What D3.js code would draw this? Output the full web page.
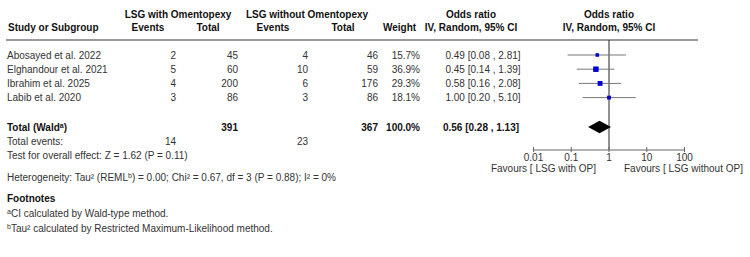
<!DOCTYPE html>
<html>
<head>
<meta charset="utf-8">
<script src="https://cdn.jsdelivr.net/npm/d3@7"></script>
<style>
  body { margin: 0; background: #fff; }
  svg { display: block; font-family: "Liberation Sans", Arial, sans-serif; font-size: 10px; }
  .b { font-weight: bold; fill: #111; }
  .r { fill: #333; }
</style>
</head>
<body>
<svg id="chart" width="750" height="257"></svg>
<script>
// ---- Data ----
const studies = ["Abosayed et al. 2022", "Elghandour et al. 2021", "Ibrahim et al.  2025", "Labib et al. 2020"];
const eventsOP = [2, 5, 4, 3];
const totalOP = [45, 60, 200, 86];
const eventsNoOP = [4, 10, 6, 3];
const totalNoOP = [46, 59, 176, 86];
const weights = [15.7, 36.9, 29.3, 18.1];
const orValues = [0.49, 0.45, 0.58, 1.00];
const ciLow = [0.08, 0.14, 0.16, 0.20];
const ciHigh = [2.81, 1.39, 2.08, 5.10];
const pooled = { or: 0.56, low: 0.28, high: 1.13, totalOP: 391, totalNoOP: 367, eventsOP: 14, eventsNoOP: 23, weight: "100.0%" };
const axisTicks = [0.01, 0.1, 1, 10, 100];
const tickLabels = ["0.01", "0.1", "1", "10", "100"];

const svg = d3.select("#chart");
const x = d3.scaleLog().domain([0.01, 100]).range([533.5, 684.5]);
const rowY = d3.scaleLinear().domain([0, 1]).range([55, 69.2]);
const fmt2 = d3.format(".2f");

function txt(xp, yc, s, cls, anchor) {
  return svg.append("text").attr("x", xp).attr("y", yc + 3.5)
    .attr("class", cls).attr("text-anchor", anchor || "start").text(s);
}

// Headers
txt(178, 14, "LSG with Omentopexy", "b", "middle");
txt(307, 14, "LSG without Omentopexy", "b", "middle");
txt(471, 14, "Odds ratio", "b", "middle");
txt(609, 14, "Odds ratio", "b", "middle");
txt(8, 27, "Study or Subgroup", "b");
txt(148, 27, "Events", "b", "middle");
txt(208, 27, "Total", "b", "middle");
txt(273, 27, "Events", "b", "middle");
txt(343, 27, "Total", "b", "middle");
txt(399.5, 27, "Weight", "b", "middle");
txt(471, 27, "IV, Random, 95% CI", "b", "middle");
txt(609, 27, "IV, Random, 95% CI", "b", "middle");

svg.append("line").attr("x1", 6).attr("x2", 698).attr("y1", 40).attr("y2", 40)
  .attr("stroke", "#9a9a9a").attr("stroke-width", 2);

// Study rows
studies.forEach((s, i) => {
  const y = rowY(i);
  txt(7, y, s, "r");
  txt(176, y, eventsOP[i], "r", "end");
  txt(238, y, totalOP[i], "r", "end");
  txt(308, y, eventsNoOP[i], "r", "end");
  txt(378, y, totalNoOP[i], "r", "end");
  txt(420, y, weights[i].toFixed(1) + "%", "r", "end");
  txt(483, y, `${fmt2(orValues[i])} [${fmt2(ciLow[i])} , ${fmt2(ciHigh[i])}]`, "r", "middle");
});

// Total row
const ty = 127;
const tt = svg.append("text").attr("x", 7).attr("y", ty + 3.5).attr("class", "b");
tt.append("tspan").text("Total (Wald");
tt.append("tspan").attr("font-size", "7px").attr("dy", -3).text("a");
tt.append("tspan").attr("dy", 3).text(")");
txt(238, ty, pooled.totalOP, "b", "end");
txt(378, ty, pooled.totalNoOP, "b", "end");
txt(420, ty, pooled.weight, "b", "end");
txt(481, ty, `${fmt2(pooled.or)} [${fmt2(pooled.low)} , ${fmt2(pooled.high)}]`, "b", "middle");

txt(7, 141, "Total events:", "r");
txt(176, 141, pooled.eventsOP, "r", "end");
txt(308, 141, pooled.eventsNoOP, "r", "end");
txt(7, 155, "Test for overall effect: Z = 1.62 (P = 0.11)", "r");

const het = svg.append("text").attr("x", 7).attr("y", 177 + 3.5).attr("class", "r");
het.append("tspan").text("Heterogeneity: Tau² (REML");
het.append("tspan").attr("font-size", "7px").attr("dy", -3).text("b");
het.append("tspan").attr("dy", 3).text(") = 0.00; Chi² = 0.67, df = 3 (P = 0.88); I² = 0%");

txt(7, 198, "Footnotes", "b");
const f1 = svg.append("text").attr("x", 7).attr("y", 213 + 3.5).attr("class", "r");
f1.append("tspan").attr("font-size", "7px").attr("dy", -3).text("a");
f1.append("tspan").attr("dy", 3).text("CI calculated by Wald-type method.");
const f2 = svg.append("text").attr("x", 7).attr("y", 228 + 3.5).attr("class", "r");
f2.append("tspan").attr("font-size", "7px").attr("dy", -3).text("b");
f2.append("tspan").attr("dy", 3).text("Tau² calculated by Restricted Maximum-Likelihood method.");

// Plot
const axisY = 150;
svg.append("line").attr("x1", x(1)).attr("x2", x(1)).attr("y1", 40).attr("y2", axisY)
  .attr("stroke", "#222").attr("stroke-width", 1);

studies.forEach((s, i) => {
  const y = rowY(i);
  svg.append("line").attr("x1", x(ciLow[i])).attr("x2", x(ciHigh[i]))
    .attr("y1", y).attr("y2", y).attr("stroke", "#777").attr("stroke-width", 1);
  const side = 0.9 * Math.sqrt(weights[i]);
  svg.append("rect").attr("x", x(orValues[i]) - side / 2).attr("y", y - side / 2)
    .attr("width", side).attr("height", side).attr("fill", "#0000cc");
});

const dh = 6.3;
svg.append("path")
  .attr("d", `M${x(pooled.low)},${ty} L${x(pooled.or)},${ty - dh} L${x(pooled.high)},${ty} L${x(pooled.or)},${ty + dh} Z`)
  .attr("fill", "#000");

const axisG = svg.append("g").attr("transform", `translate(0,${axisY})`);
axisG.append("line").attr("x1", x(0.01)).attr("x2", x(100)).attr("y1", 0).attr("y2", 0)
  .attr("stroke", "#666");
axisTicks.forEach((t, i) => {
  axisG.append("line").attr("x1", x(t)).attr("x2", x(t)).attr("y1", -3).attr("y2", 2)
    .attr("stroke", "#666");
  axisG.append("text").attr("x", x(t)).attr("y", 11).attr("text-anchor", "middle")
    .attr("class", "r").text(tickLabels[i]);
});
txt(596, 168, "Favours [ LSG with OP]", "r", "end");
txt(624, 168, "Favours [ LSG without OP]", "r", "start");
</script>
</body>
</html>
